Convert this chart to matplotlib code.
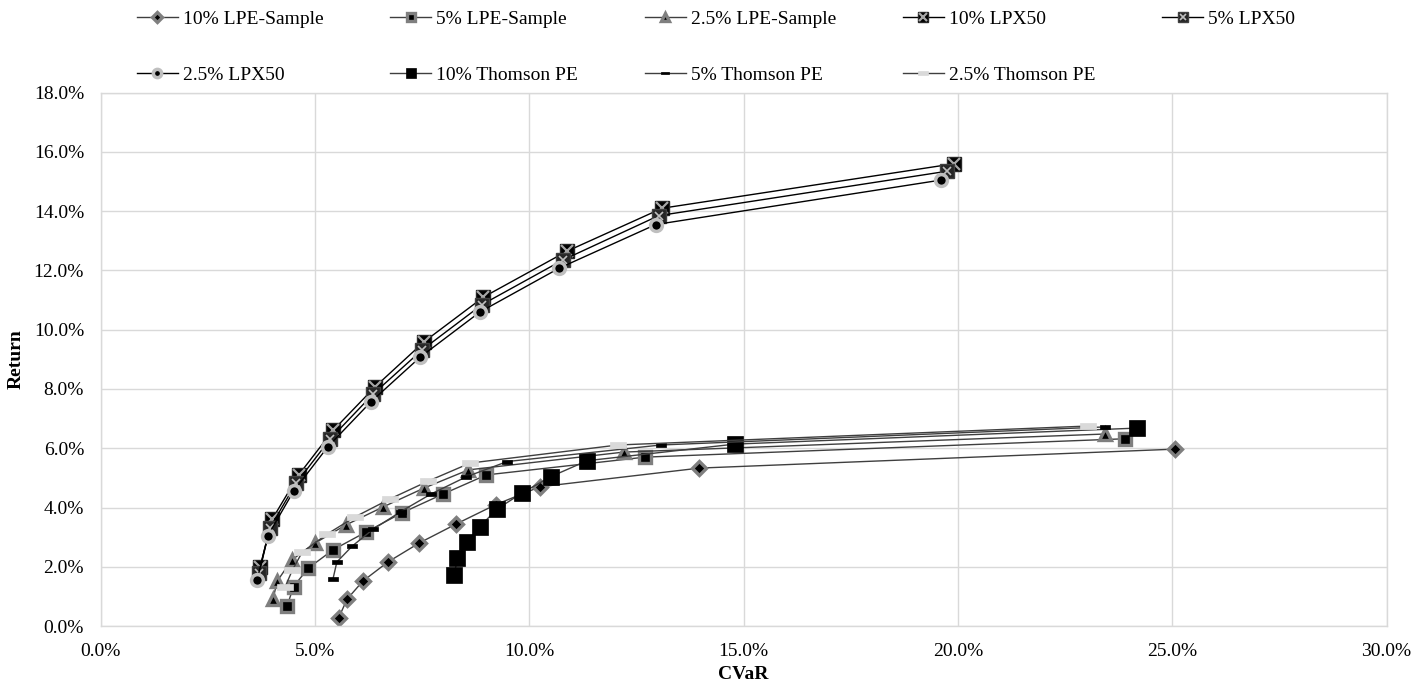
import matplotlib
matplotlib.use("Agg")
import matplotlib.pyplot as plt
from matplotlib.ticker import FuncFormatter, MultipleLocator
from matplotlib.legend_handler import HandlerTuple

plt.rcParams['font.family'] = ['Liberation Serif', 'DejaVu Serif']

# CVaR / return pairs in percent
lpe10_x = [5.55, 5.75, 6.12, 6.70, 7.43, 8.29, 9.22, 10.25, 13.97, 25.07]
lpe10_y = [0.27, 0.91, 1.52, 2.16, 2.80, 3.44, 4.10, 4.70, 5.33, 5.97]
lpe5_x = [4.35, 4.50, 4.84, 5.42, 6.20, 7.03, 7.98, 9.00, 12.70, 23.90]
lpe5_y = [0.68, 1.33, 1.95, 2.57, 3.18, 3.82, 4.45, 5.10, 5.70, 6.32]
lpe25_x = [4.02, 4.12, 4.46, 5.00, 5.72, 6.59, 7.55, 8.58, 12.20, 23.43]
lpe25_y = [0.91, 1.52, 2.23, 2.80, 3.41, 4.02, 4.66, 5.27, 5.87, 6.48]

lpx10_x = [3.72, 4.00, 4.62, 5.42, 6.40, 7.55, 8.93, 10.88, 13.10, 19.90]
lpx10_y = [2.00, 3.60, 5.10, 6.60, 8.07, 9.60, 11.10, 12.65, 14.10, 15.60]
lpx5_x = [3.70, 3.95, 4.56, 5.36, 6.35, 7.50, 8.90, 10.78, 13.02, 19.75]
lpx5_y = [1.80, 3.32, 4.82, 6.32, 7.82, 9.32, 10.85, 12.35, 13.85, 15.35]
lpx25_x = [3.65, 3.90, 4.50, 5.30, 6.30, 7.45, 8.85, 10.70, 12.95, 19.60]
lpx25_y = [1.55, 3.05, 4.55, 6.05, 7.56, 9.07, 10.60, 12.08, 13.55, 15.05]

tpe10_x = [8.25, 8.32, 8.55, 8.84, 9.25, 9.83, 10.50, 11.35, 14.80, 24.18]
tpe10_y = [1.72, 2.29, 2.84, 3.35, 3.95, 4.49, 5.04, 5.58, 6.14, 6.68]
tpe5_x = [5.42, 5.51, 5.87, 6.36, 7.00, 7.70, 8.52, 9.48, 13.07, 23.43]
tpe5_y = [1.59, 2.16, 2.70, 3.27, 3.86, 4.45, 5.03, 5.55, 6.11, 6.72]
tpe25_x = [4.30, 4.47, 4.70, 5.28, 5.93, 6.75, 7.64, 8.62, 12.07, 23.04]
tpe25_y = [1.31, 1.88, 2.49, 3.10, 3.68, 4.29, 4.89, 5.50, 6.11, 6.75]

labels = ["10% LPE-Sample", "5% LPE-Sample", "2.5% LPE-Sample",
          "10% LPX50", "5% LPX50", "2.5% LPX50",
          "10% Thomson PE", "5% Thomson PE", "2.5% Thomson PE"]

line_c = "#3f3f3f"
dash_small = [(-1, -0.4), (1, -0.4), (1, 0.4), (-1, 0.4), (-1, -0.4)]
dash_wide = [(-1, -0.33), (1, -0.33), (1, 0.33), (-1, 0.33), (-1, -0.33)]

fig = plt.figure(figsize=(14.28, 6.85), dpi=100)
ax = fig.add_axes([0.0705, 0.0861, 0.9005, 0.7786])

handles = []
h, = ax.plot(lpe10_x, lpe10_y, color=line_c, lw=1, marker="D", ms=7,
             mfc="black", mec="#7f7f7f", mew=2.4)
handles.append(h)
h, = ax.plot(lpe5_x, lpe5_y, color=line_c, lw=1, marker="s", ms=8,
             mfc="black", mec="#7f7f7f", mew=2.4)
handles.append(h)
h, = ax.plot(lpe25_x, lpe25_y, color=line_c, lw=1, marker="^", ms=8.5,
             mfc="black", mec="#7f7f7f", mew=2.4)
handles.append(h)

# LPX50 squares carry a grey cross on top
h1, = ax.plot(lpx10_x, lpx10_y, color="black", lw=1, marker="s", ms=10,
              mfc="black", mec="#262626", mew=1)
h2, = ax.plot(lpx10_x, lpx10_y, ls="none", marker="x", ms=8,
              mec="#a6a6a6", mew=1.6)
handles.append((h1, h2))
h1, = ax.plot(lpx5_x, lpx5_y, color="black", lw=1, marker="s", ms=9.5,
              mfc="#262626", mec="#404040", mew=1)
h2, = ax.plot(lpx5_x, lpx5_y, ls="none", marker="x", ms=6,
              mec="#bfbfbf", mew=1.2)
handles.append((h1, h2))
h, = ax.plot(lpx25_x, lpx25_y, color="black", lw=1, marker="o", ms=8.5,
             mfc="black", mec="#bfbfbf", mew=2.5)
handles.append(h)

h, = ax.plot(tpe10_x, tpe10_y, color=line_c, lw=1, marker="s", ms=11,
             mfc="black", mec="black", mew=0.5)
handles.append(h)
h, = ax.plot(tpe5_x, tpe5_y, color=line_c, lw=1, marker=dash_small, ms=7.5,
             mfc="black", mec="black", mew=0.5)
handles.append(h)
h, = ax.plot(tpe25_x, tpe25_y, color=line_c, lw=1, marker=dash_wide, ms=11,
             mfc="#d9d9d9", mec="#d9d9d9", mew=0.5)
handles.append(h)

ax.set_xlim(0, 30)
ax.set_ylim(0, 18)
ax.xaxis.set_major_locator(MultipleLocator(5))
ax.yaxis.set_major_locator(MultipleLocator(2))
pct = FuncFormatter(lambda v, p: f"{v:.1f}%")
ax.xaxis.set_major_formatter(pct)
ax.yaxis.set_major_formatter(pct)
ax.tick_params(length=0, labelsize=14, colors="black")
ax.tick_params(axis="x", pad=12)
ax.tick_params(axis="y", pad=12)
ax.grid(True, color="#d9d9d9", lw=1)
ax.set_axisbelow(True)
for s in ax.spines.values():
    s.set_color("#d9d9d9")
    s.set_linewidth(1)

ax.set_xlabel("CVaR", fontsize=14, fontweight="bold")
ax.set_ylabel("Return", fontsize=14, fontweight="bold")
ax.xaxis.set_label_coords(0.5, -0.075)
ax.yaxis.set_label_coords(-0.0595, 0.5)

# legend fills column by column, so reorder to read row by row
order = [0, 5, 1, 6, 2, 7, 3, 8, 4]
fig.legend([handles[i] for i in order], [labels[i] for i in order],
           ncol=5, loc="upper left", bbox_to_anchor=(137 / 1428, 1 - 10 / 685),
           frameon=False, fontsize=14, borderpad=0, borderaxespad=0,
           handlelength=2.1, handletextpad=0.25, columnspacing=3.45,
           labelspacing=2.0, markerscale=0.7,
           handler_map={tuple: HandlerTuple(ndivide=1, pad=0)})

fig.savefig("out.png", dpi=100)
